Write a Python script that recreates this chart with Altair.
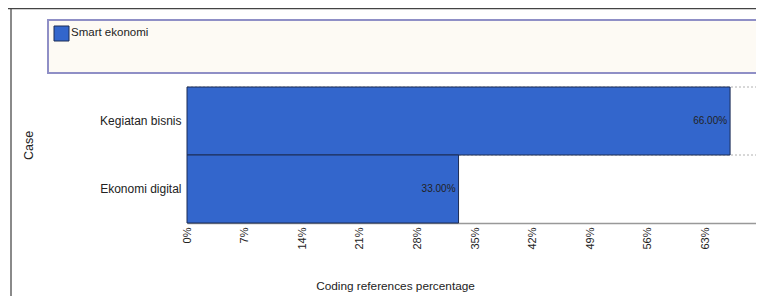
import altair as alt
import pandas as pd

cases = ["Kegiatan bisnis", "Ekonomi digital"]
values = [66.0, 33.0]
series = ["Smart ekonomi"]
tick_values = [0, 7, 14, 21, 28, 35, 42, 49, 56, 63, 70]

df = pd.DataFrame({"case": cases, "value": values,
                   "label": [f"{v:.2f}%" for v in values]})
leg = pd.DataFrame({"series": series})

FONT = "Liberation Sans"
W, H = 576, 136

xs = alt.Scale(domain=[0, 70], nice=False, zero=True)
ys = alt.Scale(domain=cases, paddingInner=0, paddingOuter=0)

yaxis = alt.Axis(title="Case", labelFont=FONT, labelFontSize=12,
                 labelColor="#222", ticks=False, domain=False,
                 labelPadding=6, grid=False, titleFont=FONT,
                 titleFontSize=12.5, titleFontWeight="normal",
                 titleColor="#222", titleX=-159, titleY=58,
                 titleBaseline="middle", titleAlign="center")

base = alt.Chart(df)

grid = base.mark_rule(color="#b0b0b0", strokeDash=[2, 2], strokeWidth=1).encode(
    y=alt.Y("case:N", scale=ys, sort=cases, bandPosition=0, axis=yaxis),
    x=alt.value(0), x2=alt.value(W),
)

bars = base.mark_bar(color="#3366cc", stroke="#1c2c55", strokeWidth=1).encode(
    x=alt.X("value:Q", scale=xs,
            axis=alt.Axis(values=tick_values, labelExpr="datum.value + '%'",
                          labelAngle=270, labelFontSize=11, labelFont=FONT,
                          labelColor="#222", labelPadding=4, ticks=False,
                          grid=False, domainColor="#999", domainWidth=1.5,
                          title="Coding references percentage", titleFont=FONT,
                          titleFontSize=11.8, titleFontWeight="normal",
                          titleColor="#222", titleX=208, titleY=62,
                          titleBaseline="middle", titleAlign="center")),
    y=alt.Y("case:N", scale=ys, sort=cases, axis=yaxis),
)

labels = base.mark_text(align="right", baseline="middle", dx=-3, fontSize=10,
                        font=FONT, color="#222").encode(
    x=alt.X("value:Q", scale=xs),
    y=alt.Y("case:N", scale=ys, sort=cases, bandPosition=0.5, axis=yaxis),
    text="label:N",
)

lb = alt.Chart(leg)
leg_box = lb.mark_rect(fill="#fdfaf4", stroke="#8f8fc6", strokeWidth=2).encode(
    x=alt.value(-139), x2=alt.value(W + 6), y=alt.value(-67), y2=alt.value(-14))
leg_sym = lb.mark_rect(fill="#3366cc", stroke="#1c2c55", strokeWidth=1).encode(
    x=alt.value(-133), x2=alt.value(-118), y=alt.value(-61), y2=alt.value(-46))
leg_txt = lb.mark_text(align="left", baseline="middle", fontSize=11.5, font=FONT,
                       color="#222").encode(
    x=alt.value(-116), y=alt.value(-54), text="series:N")

frame_left = lb.mark_rule(color="#8a8a8a", strokeWidth=2).encode(
    x=alt.value(-176), y=alt.value(-79), y2=alt.value(H + 73))
frame_top = lb.mark_rule(color="#444", strokeWidth=1.5).encode(
    y=alt.value(-78.5), x=alt.value(-179), x2=alt.value(W + 2))

chart = alt.layer(frame_left, frame_top, leg_box, leg_sym, leg_txt,
                  grid, bars, labels).properties(
    width=W, height=H,
    autosize=alt.AutoSizeParams(type="none"),
    padding={"left": 179, "top": 79, "right": -7, "bottom": 73},
    background="white",
).configure_view(stroke=None)

chart.save("out.html", embed_options={"renderer": "svg", "actions": False})
